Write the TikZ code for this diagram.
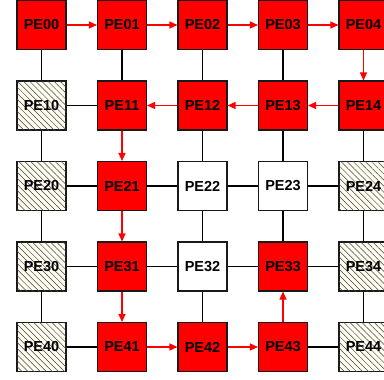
\documentclass[tikz,border=0pt]{standalone}
\usepackage{fontspec}
\setmainfont{Liberation Sans}
\usetikzlibrary{arrows.meta,patterns.meta}
\definecolor{cream}{RGB}{255,253,240}
\definecolor{pured}{RGB}{255,0,0}
\tikzset{
  pe/.style={draw=black!90, line width=1.1pt, minimum size=49pt, inner sep=0pt,
    font=\fontsize{14.5}{16}\selectfont\bfseries},
  redbox/.style={pe, fill=pured},
  whtbox/.style={pe, fill=white},
  hatbox/.style={pe, fill=cream, postaction={pattern={Lines[angle=-45,distance=4.3pt,line width=0.5pt]}, pattern color=black!75}},
  link/.style={line width=1.2pt, draw=black},
  redpath/.style={line width=1.3pt, draw=pured, -{Triangle[length=8pt,width=7pt]}}
}
\begin{document}
\begin{tikzpicture}[x=1pt,y=-1pt]
\useasboundingbox (0,0) rectangle (384,380);
\def\cA{41.5}\def\cB{122}\def\cC{202.5}\def\cD{283}\def\cE{363.5}
\def\rA{25}\def\rB{105.5}\def\rC{186}\def\rD{266.5}\def\rE{347}
\node[redbox] (n00) at (\cA,\rA) {PE00};
\node[redbox] (n01) at (\cB,\rA) {PE01};
\node[redbox] (n02) at (\cC,\rA) {PE02};
\node[redbox] (n03) at (\cD,\rA) {PE03};
\node[redbox] (n04) at (\cE,\rA) {PE04};
\node[hatbox] (n10) at (\cA,\rB) {PE10};
\node[redbox] (n11) at (\cB,\rB) {PE11};
\node[redbox] (n12) at (\cC,\rB) {PE12};
\node[redbox] (n13) at (\cD,\rB) {PE13};
\node[redbox] (n14) at (\cE,\rB) {PE14};
\node[hatbox] (n20) at (\cA,\rC) {PE20};
\node[redbox] (n21) at (\cB,\rC) {PE21};
\node[whtbox] (n22) at (\cC,\rC) {PE22};
\node[whtbox] (n23) at (\cD,\rC) {PE23};
\node[hatbox] (n24) at (\cE,\rC) {PE24};
\node[hatbox] (n30) at (\cA,\rD) {PE30};
\node[redbox] (n31) at (\cB,\rD) {PE31};
\node[whtbox] (n32) at (\cC,\rD) {PE32};
\node[redbox] (n33) at (\cD,\rD) {PE33};
\node[hatbox] (n34) at (\cE,\rD) {PE34};
\node[hatbox] (n40) at (\cA,\rE) {PE40};
\node[redbox] (n41) at (\cB,\rE) {PE41};
\node[redbox] (n42) at (\cC,\rE) {PE42};
\node[redbox] (n43) at (\cD,\rE) {PE43};
\node[hatbox] (n44) at (\cE,\rE) {PE44};
% black links
\foreach \a/\b in {00/10,01/11,02/12,03/13,10/20,12/22,13/23,14/24,20/30,22/32,23/33,24/34,30/40,32/42,34/44,
  10/11,20/21,21/22,22/23,23/24,30/31,31/32,32/33,33/34,40/41,43/44}
  \draw[link] (n\a) -- (n\b);
% red path
\foreach \a/\b in {00/01,01/02,02/03,03/04,04/14,14/13,13/12,12/11,11/21,21/31,31/41,41/42,42/43,43/33}
  \draw[redpath] (n\a) -- (n\b);
\end{tikzpicture}
\end{document}
